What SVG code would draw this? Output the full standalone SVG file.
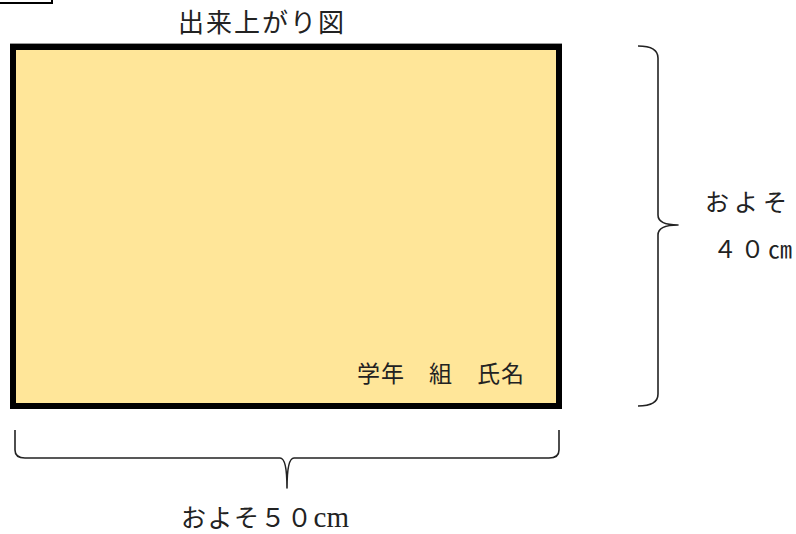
<svg xmlns="http://www.w3.org/2000/svg" width="796" height="534" viewBox="0 0 796 534">
<style>
.t{font-family:"Liberation Serif","Noto Sans CJK JP",serif;fill:#222;}
.br{fill:none;stroke:#222;stroke-width:1.6;stroke-linejoin:round;}
</style>
<rect x="0" y="0" width="796" height="534" fill="#fff"/>
<g id="corner-box">
<path d="M0,3 L52,3 L52,0" fill="none" stroke="#000" stroke-width="2"/>
</g>
<g id="title">
<text class="t" x="178" y="32" font-size="26" letter-spacing="2">出来上がり図</text>
</g>
<g id="board">
<line x1="10" y1="43.5" x2="562" y2="43.5" stroke="#999" stroke-width="1"/>
<rect x="13" y="47" width="546" height="359" fill="#FFE699" stroke="#000" stroke-width="6"/>
<text class="t" x="357" y="382" font-size="23" letter-spacing="1">学年　組　氏名</text>
</g>
<g id="connectors">
<path class="br" d="M638,46 Q658,46 658,58 L658,215 Q658,225 678,225 Q658,225 658,235 L658,394 Q658,406 638,406"/>
<path class="br" d="M15,430 L15,450 Q15,458 25,458 L280,458 Q287,458 287,488 Q287,458 294,458 L549,458 Q559,458 559,450 L559,430"/>
</g>
<g id="label-height">
<text class="t" x="705" y="211" font-size="24" letter-spacing="5">およそ</text>
<text class="t" x="713" y="258" font-size="24" letter-spacing="3.5">４０㎝</text>
</g>
<g id="label-width">
<text class="t" x="181" y="527" font-size="25" letter-spacing="1.5">およそ５０<tspan font-size="29" letter-spacing="0">cm</tspan></text>
</g>
</svg>
